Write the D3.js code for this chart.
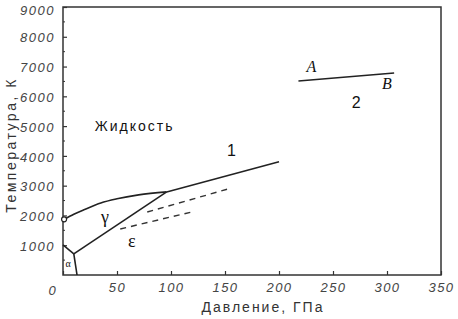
<!DOCTYPE html>
<html>
<head>
<meta charset="utf-8">
<script src="https://cdn.jsdelivr.net/npm/d3@7"></script>
<style>
  body { margin: 0; background: #fff; }
  svg { display: block; }
  .tick text { font-family: "Liberation Sans", Arial, sans-serif; font-style: italic; font-size: 13px; fill: #444; letter-spacing: 1.5px; }
</style>
</head>
<body>
<svg width="458" height="319"></svg>
<script>
// Phase diagram of iron: pressure (GPa) vs temperature (K)
var xTicks = [0, 50, 100, 150, 200, 250, 300, 350];
var yTicks = [1000, 2000, 3000, 4000, 5000, 6000, 7000, 8000, 9000];

// solid lines
var meltingLow = [[1, 1870], [10, 2040], [20, 2200], [35, 2420], [50, 2560], [70, 2690], [96, 2790]];
var meltingHigh = [[96, 2790], [200, 3800]];
var gammaEps = [[10, 710], [96, 2790]];
var alphaGamma = [[0, 1010], [10, 710]];
var alphaEps = [[10, 710], [13, 0]];
var lineAB = [[218, 6514], [306.6, 6783]];

// dashed lines
var dashUpper = [[78, 2115], [156, 2921]];
var dashLower = [[53, 1545], [119, 2115]];

// labels: text, P, T
var labels = [
  {t: "Жидкость", p: 29.5, T: 4835, cls: "sans"},
  {t: "1", p: 156, T: 4000, cls: "num"},
  {t: "2", p: 271.5, T: 5600, cls: "num"},
  {t: "A", p: 230, T: 6830, cls: "it"},
  {t: "B", p: 300, T: 6250, cls: "it"},
  {t: "γ", p: 38.8, T: 1750, cls: "greek"},
  {t: "ε", p: 63.7, T: 950, cls: "greek"},
  {t: "α", p: 4.8, T: 280, cls: "small"}
];

var svg = d3.select("svg"),
    mLeft = 63, mRight = 441, mTop = 7, mBottom = 275;

var x = d3.scaleLinear().domain([0, 350]).range([mLeft, mRight]);
var y = d3.scaleLinear().domain([0, 9000]).range([mBottom, mTop]);

// frame
svg.append("rect")
  .attr("x", mLeft).attr("y", mTop)
  .attr("width", mRight - mLeft).attr("height", mBottom - mTop)
  .attr("fill", "none").attr("stroke", "#333").attr("stroke-width", 1.5);

// x axis
var xAxis = svg.append("g")
  .attr("transform", "translate(0," + mBottom + ")")
  .call(d3.axisBottom(x).tickValues(xTicks)
    .tickFormat(function(d){ return d === 0 ? "" : d; })
    .tickSizeInner(-4).tickSizeOuter(0).tickPadding(8));
xAxis.select(".domain").remove();
xAxis.selectAll("line").attr("stroke", "#333").attr("stroke-width", 1.2);

// y axis
var yAxis = svg.append("g")
  .attr("transform", "translate(" + mLeft + ",0)")
  .call(d3.axisLeft(y).tickValues(yTicks)
    .tickFormat(d3.format("d"))
    .tickSizeInner(-4).tickSizeOuter(0).tickPadding(8));
yAxis.select(".domain").remove();
yAxis.selectAll("line").attr("stroke", "#333").attr("stroke-width", 1.2);
yAxis.selectAll("text").attr("dy", "0.4em");
yAxis.selectAll(".tick").filter(function(d){ return d === 9000; })
  .select("text").attr("dy", "0.6em");

// minor y ticks
var minor = d3.range(500, 9000, 1000);
svg.append("g").selectAll("line").data(minor).enter().append("line")
  .attr("x1", mLeft).attr("x2", mLeft + 2)
  .attr("y1", function(d){ return y(d); }).attr("y2", function(d){ return y(d); })
  .attr("stroke", "#333").attr("stroke-width", 1);

// origin label
svg.append("text")
  .attr("x", 52).attr("y", 295)
  .attr("text-anchor", "middle")
  .style("font-family", "Liberation Sans, Arial, sans-serif")
  .style("font-style", "italic").style("font-size", "13px").style("fill", "#444")
  .text("0");

// axis titles
svg.append("text")
  .attr("x", 263).attr("y", 312)
  .attr("text-anchor", "middle")
  .style("font-family", "Liberation Sans, Arial, sans-serif")
  .style("font-size", "14px").style("letter-spacing", "2px").style("fill", "#333")
  .text("Давление, ГПа");

svg.append("text")
  .attr("transform", "translate(16,145) rotate(-90)")
  .attr("text-anchor", "middle")
  .style("font-family", "Liberation Sans, Arial, sans-serif")
  .style("font-size", "14px").style("letter-spacing", "2.5px").style("fill", "#333")
  .text("Температура, К");

// lines
var line = d3.line()
  .x(function(d){ return x(d[0]); })
  .y(function(d){ return y(d[1]); });

svg.append("path").datum(meltingLow)
  .attr("d", line.curve(d3.curveMonotoneX))
  .attr("fill", "none").attr("stroke", "#222").attr("stroke-width", 1.6);

line.curve(d3.curveLinear);
[meltingHigh, gammaEps, alphaGamma, alphaEps, lineAB].forEach(function(s){
  svg.append("path").datum(s)
    .attr("d", line)
    .attr("fill", "none").attr("stroke", "#222").attr("stroke-width", 1.6);
});

[dashUpper, dashLower].forEach(function(s){
  svg.append("path").datum(s)
    .attr("d", line)
    .attr("fill", "none").attr("stroke", "#333").attr("stroke-width", 1.4)
    .attr("stroke-dasharray", "6,5");
});

// open circle at start of melting curve
svg.append("circle")
  .attr("cx", x(meltingLow[0][0])).attr("cy", y(meltingLow[0][1]))
  .attr("r", 2.5)
  .attr("fill", "#fff").attr("stroke", "#222").attr("stroke-width", 1.2);

// labels
var fonts = {
  sans: {family: "Liberation Sans, Arial, sans-serif", size: "14px", style: "normal", ls: "2px"},
  num: {family: "Liberation Sans, Arial, sans-serif", size: "16px", style: "normal", ls: "0px"},
  it: {family: "Liberation Serif, Times New Roman, serif", size: "16px", style: "italic", ls: "0px"},
  greek: {family: "Liberation Serif, Times New Roman, serif", size: "18px", style: "normal", ls: "0px"},
  small: {family: "Liberation Serif, Times New Roman, serif", size: "10px", style: "normal", ls: "0px"}
};
svg.append("g").selectAll("text").data(labels).enter().append("text")
  .attr("x", function(d){ return x(d.p); })
  .attr("y", function(d){ return y(d.T); })
  .attr("text-anchor", function(d){ return d.cls === "sans" ? "start" : "middle"; })
  .style("font-family", function(d){ return fonts[d.cls].family; })
  .style("font-size", function(d){ return fonts[d.cls].size; })
  .style("font-style", function(d){ return fonts[d.cls].style; })
  .style("letter-spacing", function(d){ return fonts[d.cls].ls; })
  .style("fill", "#111")
  .text(function(d){ return d.t; });
</script>
</body>
</html>
